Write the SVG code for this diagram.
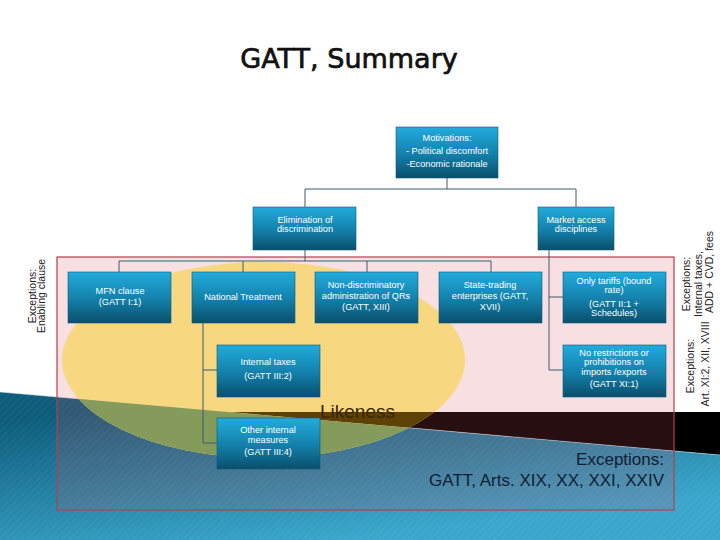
<svg xmlns="http://www.w3.org/2000/svg" width="720" height="540" viewBox="0 0 720 540">
<defs>
<style>
.box{stroke:#0b5a78;stroke-width:0.6;fill:url(#boxg)}
.bt{font-family:"Liberation Sans",Arial,sans-serif;font-size:9.2px;fill:#ffffff;text-anchor:middle}
.con{stroke:#3d5c6c;stroke-width:1;fill:none}
.side{font-family:"Liberation Sans",Arial,sans-serif;font-size:10.5px;fill:#222;text-anchor:middle}
</style>
<linearGradient id="boxg" x1="0" y1="0" x2="0" y2="1">
<stop offset="0" stop-color="#22abdc"/>
<stop offset="0.55" stop-color="#137fa9"/>
<stop offset="1" stop-color="#0a4f6c"/>
</linearGradient>
<linearGradient id="blueg" x1="0" y1="0.2" x2="0.45" y2="1">
<stop offset="0" stop-color="#0d5c7a"/>
<stop offset="1" stop-color="#3aa6cc"/>
</linearGradient>
<pattern id="stripes" patternUnits="userSpaceOnUse" width="5" height="5" patternTransform="rotate(45)">
<line x1="0" y1="0" x2="0" y2="5" stroke="#ffffff" stroke-width="1.5" stroke-opacity="0.08"/>
</pattern>
<clipPath id="wedgeClip"><polygon points="229,412 720,412 720,455"/></clipPath>
<clipPath id="blueClip"><polygon points="0,392 720,455 720,540 0,540"/></clipPath>
</defs>
<rect width="720" height="540" fill="#ffffff"/>
<text x="349" y="68" font-family="DejaVu Sans, sans-serif" font-size="27" fill="#111" stroke="#111" stroke-width="0.7" text-anchor="middle">GATT, Summary</text>

<!-- side rotated texts (under the dark band) -->
<g id="exc-left">
<text class="side" transform="translate(36,296) rotate(-90)">Exceptions:</text>
<text class="side" transform="translate(45,296) rotate(-90)">Enabling clause</text>
</g>
<g id="exc-right1">
<text class="side" transform="translate(690,284) rotate(-90)">Exceptions:</text>
<text class="side" transform="translate(702,284) rotate(-90)">Internal taxes,</text>
<text class="side" transform="translate(713,272) rotate(-90)">ADD + CVD, fees</text>
</g>
<g id="exc-right2">
<text class="side" transform="translate(694,366) rotate(-90)">Exceptions:</text>
<text class="side" transform="translate(709,364) rotate(-90)">Art. XI:2, XII, XVIII</text>
</g>

<!-- background bands -->
<polygon points="229,412 720,412 720,455" fill="#000000"/>
<polygon points="0,392 720,455 720,540 0,540" fill="url(#blueg)"/>
<polygon points="0,392 720,455 720,540 0,540" fill="url(#stripes)"/>
<line x1="0" y1="392" x2="720" y2="455" stroke="#d8ecf2" stroke-width="0.8" stroke-opacity="0.6"/>

<!-- pink frame -->
<rect x="57" y="257" width="617" height="253" fill="#d05060" fill-opacity="0.18" stroke="#b2404f" stroke-width="1.2"/>

<!-- yellow ellipse -->
<ellipse cx="263.5" cy="360" rx="201.5" ry="98" fill="#f7d780"/>
<ellipse cx="263.5" cy="360" rx="201.5" ry="98" fill="#5e4106" clip-path="url(#wedgeClip)"/>
<ellipse cx="263.5" cy="360" rx="201.5" ry="98" fill="#849b5b" clip-path="url(#blueClip)"/>

<text x="320" y="418" font-family="Liberation Sans, Arial, sans-serif" font-size="19" fill="#3a2608">Likeness</text>

<g id="connectors">
<path class="con" d="M447,178 V189 M305,189 H576 M305,189 V207 M576,189 V207"/>
<path class="con" d="M305,250 V261 M119,261 H491 M119,261 V272 M243,261 V272 M367,261 V272 M491,261 V272"/>
<path class="con" d="M549,250 V370 M549,297 H563 M549,370 H563"/>
<path class="con" d="M203,323 V443 M203,370 H217 M203,443 H217"/>
</g>

<g id="motivations">
<rect class="box" x="396" y="127" width="102" height="51"/>
<text class="bt" x="447" y="141">Motivations:</text>
<text class="bt" x="447" y="154">- Political discomfort</text>
<text class="bt" x="447" y="167">-Economic rationale</text>
</g>
<g id="elimination">
<rect class="box" x="253" y="207" width="103" height="43"/>
<text class="bt" x="305" y="223">Elimination of</text>
<text class="bt" x="305" y="232">discrimination</text>
</g>
<g id="market">
<rect class="box" x="538" y="207" width="76" height="43"/>
<text class="bt" x="576" y="223">Market access</text>
<text class="bt" x="576" y="232">disciplines</text>
</g>
<g id="mfn">
<rect class="box" x="68" y="272" width="103" height="51"/>
<text class="bt" x="120" y="294">MFN clause</text>
<text class="bt" x="120" y="305">(GATT I:1)</text>
</g>
<g id="nt">
<rect class="box" x="192" y="272" width="103" height="51"/>
<text class="bt" x="243" y="300">National Treatment</text>
</g>
<g id="nondisc">
<rect class="box" x="315" y="272" width="103" height="51"/>
<text class="bt" x="366" y="288">Non-discriminatory</text>
<text class="bt" x="366" y="299">administration of QRs</text>
<text class="bt" x="366" y="310">(GATT, XIII)</text>
</g>
<g id="statetrading">
<rect class="box" x="439" y="272" width="103" height="51"/>
<text class="bt" x="490" y="288">State-trading</text>
<text class="bt" x="490" y="299">enterprises (GATT,</text>
<text class="bt" x="490" y="310">XVII)</text>
</g>
<g id="tariffs">
<rect class="box" x="563" y="272" width="103" height="51"/>
<text class="bt" x="614" y="284">Only tariffs (bound</text>
<text class="bt" x="614" y="293">rate)</text>
<text class="bt" x="614" y="307">(GATT II:1 +</text>
<text class="bt" x="614" y="316">Schedules)</text>
</g>
<g id="internaltaxes">
<rect class="box" x="217" y="345" width="103" height="52"/>
<text class="bt" x="268" y="365">Internal taxes</text>
<text class="bt" x="268" y="379">(GATT III:2)</text>
</g>
<g id="norestrictions">
<rect class="box" x="563" y="345" width="103" height="52"/>
<text class="bt" x="614" y="356">No restrictions or</text>
<text class="bt" x="614" y="365">prohibitions on</text>
<text class="bt" x="614" y="375">imports /exports</text>
<text class="bt" x="614" y="387">(GATT XI:1)</text>
</g>
<g id="otherinternal">
<rect class="box" x="217" y="418" width="103" height="51"/>
<text class="bt" x="268" y="433">Other internal</text>
<text class="bt" x="268" y="443">measures</text>
<text class="bt" x="268" y="455">(GATT III:4)</text>
</g>

<text x="664" y="465" font-family="Liberation Sans, Arial, sans-serif" font-size="17" fill="#0d1f33" text-anchor="end">Exceptions:</text>
<text x="664" y="486" font-family="Liberation Sans, Arial, sans-serif" font-size="17" fill="#0d1f33" text-anchor="end">GATT, Arts. XIX, XX, XXI, XXIV</text>
</svg>
